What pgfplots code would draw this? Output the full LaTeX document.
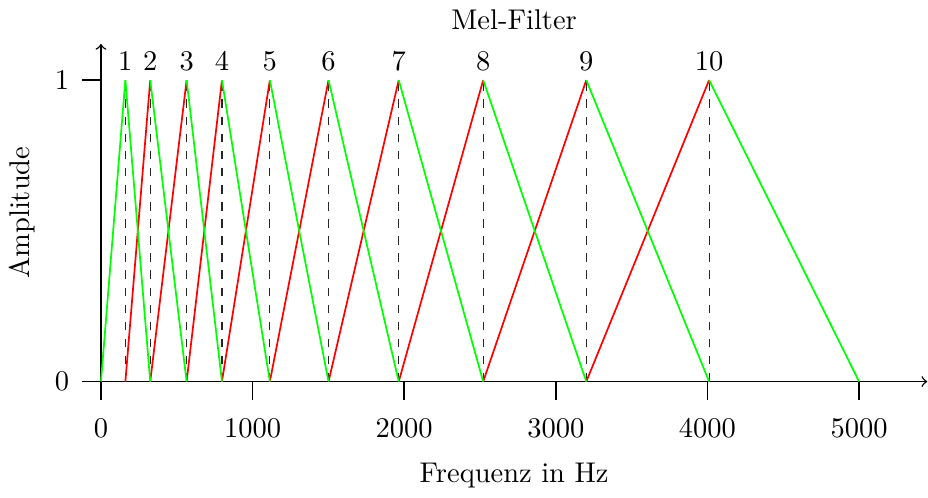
\documentclass[border=0pt]{standalone}
\usepackage{pgfplots}
\pgfplotsset{compat=1.18}
\begin{document}
\begin{tikzpicture}
\begin{axis}[
  scale only axis,
  width=290pt, height=118.5pt,
  xmin=0, xmax=5450, ymin=0, ymax=1.12,
  axis x line=bottom, axis y line=left,
  axis line style={->, line width=0.5pt},
  tick align=outside,
  major tick length=6.6pt,
  major tick style={draw=black, line width=0.5pt},
  xtick={0,1000,2000,3000,4000,5000},
  ytick={0,1},
  scaled x ticks=false,
  xticklabel style={/pgf/number format/1000 sep={}, yshift=-3pt},
  yticklabel style={xshift=-1pt},
  title={Mel-Filter},
  title style={yshift=-4.5pt},
  xlabel={Frequenz in Hz},
  xlabel style={yshift=-2pt},
  ylabel={Amplitude},
  clip=false,
]
% tick marks
\addplot[only marks, mark=|, mark size=3.3pt, mark options={black, line width=0.6pt, yshift=-3.3pt}]
  coordinates {(0,0)(1000,0)(2000,0)(3000,0)(4000,0)(5000,0)};
\addplot[only marks, mark=-, mark size=3.3pt, mark options={black, line width=0.6pt, xshift=-3.3pt}]
  coordinates {(0,0)(0,1)};
% dashed center lines
\addplot[ycomb, black!85, dashed, thin, mark=none] coordinates {
(161,1)(325,1)(565,1)(798,1)(1114,1)(1501,1)(1964,1)(2521,1)(3201,1)(4011,1)};
% rising edges
\addplot[green, semithick] coordinates {(0,0)(161,1)};
\addplot[red, semithick] coordinates {(161,0)(325,1)};
\addplot[red, semithick] coordinates {(325,0)(565,1)};
\addplot[red, semithick] coordinates {(565,0)(798,1)};
\addplot[red, semithick] coordinates {(798,0)(1114,1)};
\addplot[red, semithick] coordinates {(1114,0)(1501,1)};
\addplot[red, semithick] coordinates {(1501,0)(1964,1)};
\addplot[red, semithick] coordinates {(1964,0)(2521,1)};
\addplot[red, semithick] coordinates {(2521,0)(3201,1)};
\addplot[red, semithick] coordinates {(3201,0)(4011,1)};
% falling edges
\addplot[green, semithick] coordinates {(161,1)(325,0)};
\addplot[green, semithick] coordinates {(325,1)(565,0)};
\addplot[green, semithick] coordinates {(565,1)(798,0)};
\addplot[green, semithick] coordinates {(798,1)(1114,0)};
\addplot[green, semithick] coordinates {(1114,1)(1501,0)};
\addplot[green, semithick] coordinates {(1501,1)(1964,0)};
\addplot[green, semithick] coordinates {(1964,1)(2521,0)};
\addplot[green, semithick] coordinates {(2521,1)(3201,0)};
\addplot[green, semithick] coordinates {(3201,1)(4011,0)};
\addplot[green, semithick] coordinates {(4011,1)(5000,0)};
% labels
\addplot[only marks, mark=none, nodes near coords, point meta=explicit symbolic,
  every node near coord/.style={anchor=south, inner sep=3pt}] coordinates {
(161,1)[1] (325,1)[2] (565,1)[3] (798,1)[4] (1114,1)[5] (1501,1)[6]
(1964,1)[7] (2521,1)[8] (3201,1)[9] (4011,1)[10]};
\end{axis}
\end{tikzpicture}
\end{document}
